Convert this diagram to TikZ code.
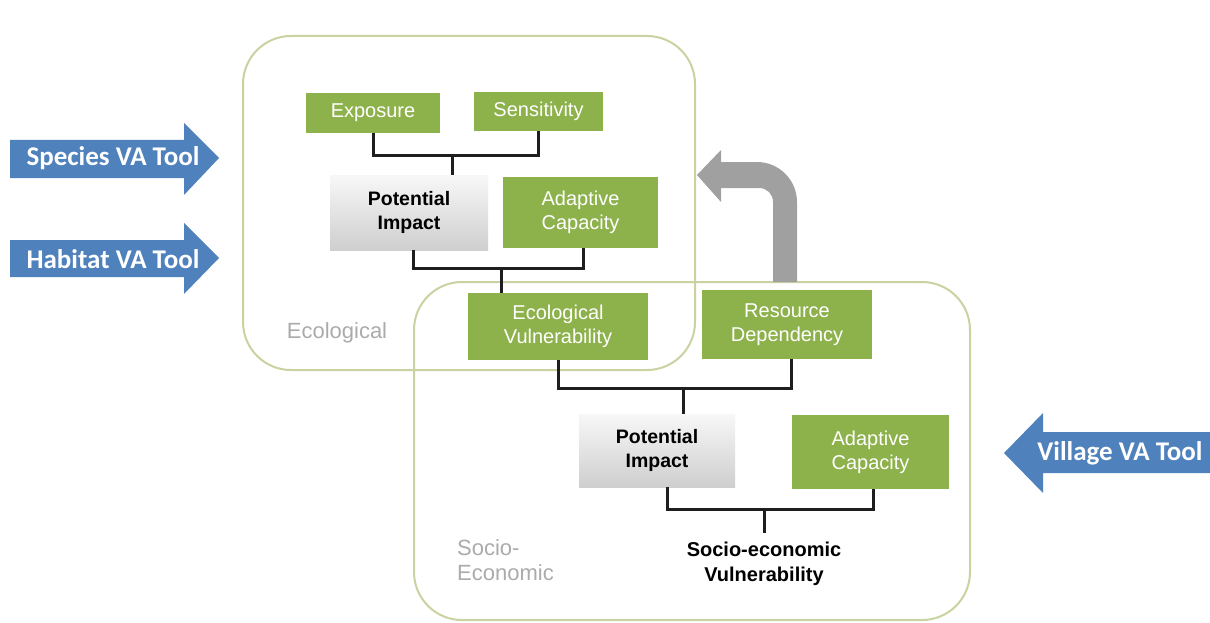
\documentclass[tikz,border=0pt]{standalone}
\usepackage{fontspec}
\setmainfont{Liberation Sans}
\newfontfamily\calfont{Carlito}
\definecolor{boxgreen}{HTML}{8DB14B}
\definecolor{frameolive}{HTML}{C9D3A2}
\definecolor{toolblue}{HTML}{4F81BD}
\definecolor{arrgray}{HTML}{A0A0A0}
\definecolor{labgray}{HTML}{ABABAB}
\definecolor{linkblack}{HTML}{1E1E1E}
\tikzset{
  greenbox/.style={fill=boxgreen, text=white, align=center, inner sep=0pt,
    font=\fontsize{20}{24}\selectfont},
  pibox/.style={top color=gray!6, bottom color=gray!38, align=center, inner sep=0pt,
    font=\bfseries\fontsize{19.5}{24}\selectfont},
  frame/.style={draw=frameolive, line width=2pt, rounded corners=48pt},
  link/.style={draw=linkblack, line width=3pt},
  toolarrow/.style={fill=toolblue},
  tooltext/.style={text=white, font=\calfont\bfseries\fontsize{27}{30}\selectfont, inner sep=0pt},
  grouplabel/.style={text=labgray, font=\fontsize{22}{25}\selectfont, inner sep=0pt},
}
\begin{document}
\begin{tikzpicture}[x=1pt,y=-1pt]
\useasboundingbox (0,0) rectangle (1210,623);
\fill[white] (0,0) rectangle (1210,623);

% frames
\draw[frame] (243,36) rectangle (695,370);
\draw[frame] (414,282) rectangle (970,620);

% grey curved arrow
\fill[arrgray] (773,282) -- (797,282) -- (797,202)
  .. controls (797,180) and (779,162) .. (757,162)
  -- (721,162) -- (721,150) -- (697,175) -- (721,202) -- (721,188)
  -- (759,188) .. controls (767,188) and (773,194) .. (773,202) -- cycle;

% ecological boxes
\node[greenbox, minimum width=134pt, minimum height=40pt] (expo) at (373,113) {Exposure};
\node[greenbox, minimum width=129pt, minimum height=39pt] (sens) at (538.5,111.5) {Sensitivity};
\node[pibox, minimum width=158pt, minimum height=75pt] (pi1) at (409,212.5) {Potential\\Impact};
\node[greenbox, minimum width=155pt, minimum height=71pt] (ac1) at (580.5,212.5) {Adaptive\\Capacity};
\node[greenbox, minimum width=180pt, minimum height=67pt] (ev) at (558,326.5) {Ecological\\Vulnerability};
\node[greenbox, minimum width=170pt, minimum height=69pt] (rd) at (787,324.5) {Resource\\Dependency};
\node[pibox, minimum width=156pt, minimum height=73pt] (pi2) at (657,450.5) {Potential\\Impact};
\node[greenbox, minimum width=157pt, minimum height=74pt] (ac2) at (870.5,452) {Adaptive\\Capacity};
\node[align=center, inner sep=0pt, font=\bfseries\fontsize{20}{25}\selectfont] (sev) at (764,564) {Socio-economic\\Vulnerability};

% group labels
\node[grouplabel] (eclab) at (337,333) {Ecological};
\node[grouplabel, align=left, anchor=west] (solab) at (457,560) {Socio-\\Economic};

% connectors
\coordinate (j1) at (452,156);
\draw[link] (expo.south) -- (expo.south |- j1) -- (sens.south |- j1) -- (sens.south);
\draw[link] (j1) -- (j1 |- pi1.north);
\coordinate (j2) at (501,268);
\draw[link] ([xshift=4pt]pi1.south) -- ([xshift=4pt]pi1.south |- j2) -- ([xshift=2.5pt]ac1.south |- j2) -- ([xshift=2.5pt]ac1.south);
\draw[link] (j2) -- (j2 |- ev.north);
\coordinate (j3) at (683,388);
\draw[link] (ev.south) -- (ev.south |- j3) -- ([xshift=4pt]rd.south |- j3) -- ([xshift=4pt]rd.south);
\draw[link] (j3) -- (j3 |- pi2.north);
\coordinate (j4) at (764,509);
\draw[link] ([xshift=10pt]pi2.south) -- ([xshift=10pt]pi2.south |- j4) -- ([xshift=2.5pt]ac2.south |- j4) -- ([xshift=2.5pt]ac2.south);
\draw[link] (j4) -- (j4 |- 0,533);

% tool arrows
\fill[toolarrow] (10,140) -- (184,140) -- (184,123) -- (219,158) -- (184,195) -- (184,178) -- (10,178) -- cycle;
\node[tooltext] (species) at (113,158) {Species VA Tool};
\fill[toolarrow] (10,240) -- (184,240) -- (184,223) -- (219,258) -- (184,294) -- (184,277) -- (10,277) -- cycle;
\node[tooltext] (habitat) at (113,259) {Habitat VA Tool};
\fill[toolarrow] (1210,432) -- (1043,432) -- (1043,413) -- (1004,453) -- (1043,493) -- (1043,473) -- (1210,473) -- cycle;
\node[tooltext] (village) at (1120,453) {Village VA Tool};
\end{tikzpicture}
\end{document}
